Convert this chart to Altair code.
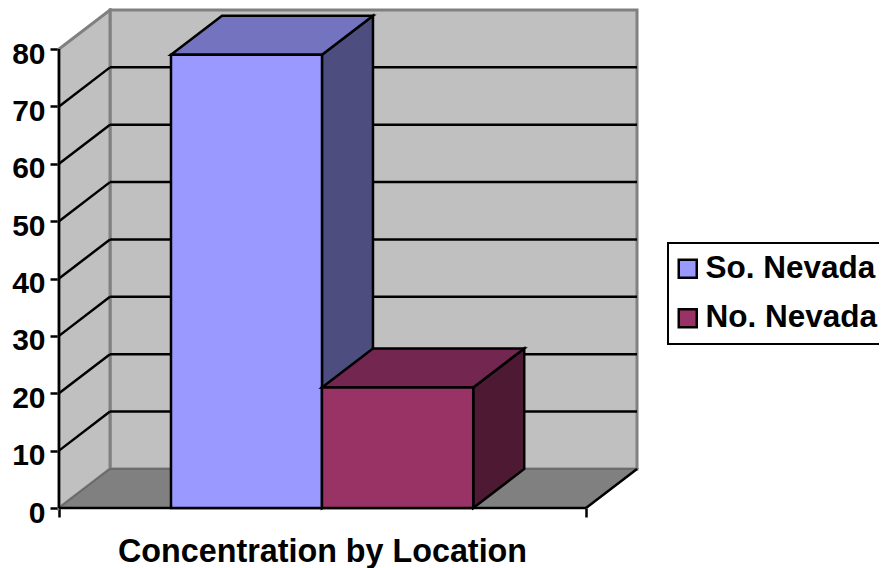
import altair as alt
import pandas as pd

locations = ["So. Nevada", "No. Nevada"]
values = [79, 21]
bar_left = [0.2125, 0.499]
bar_right = [0.499, 0.786]
front_colors = ["#9999FF", "#993366"]
top_colors = ["#7373BF", "#732650"]
side_colors = ["#4D4D80", "#4D1933"]
grid_values = [10, 20, 30, 40, 50, 60, 70]
y_ticks = [0, 10, 20, 30, 40, 50, 60, 70, 80]
x_ticks = [0, 1]
y_max = 80
depth_x = 0.0968
depth_y = 6.8
x_dom = [0, 1 + depth_x]
y_dom = [0, y_max + depth_y]
FONT = "Liberation Sans"
LINE = 2.5

x_axis = alt.Axis(values=x_ticks, labels=False, domain=False, grid=False,
                  ticks=True, tickSize=9, tickWidth=LINE, tickColor="black",
                  title="Concentration by Location", titleFont=FONT, titleFontWeight="bold",
                  titleFontSize=32.3, titleColor="black", titleX=263, titleY=53,
                  titleAnchor="middle", titleAlign="center", titleBaseline="alphabetic")
y_axis = alt.Axis(values=y_ticks, domain=False, grid=False, ticks=True, tickSize=9,
                  tickWidth=LINE, tickColor="black", title=None, labelFont=FONT,
                  labelFontWeight="bold", labelFontSize=30, labelColor="black",
                  labelPadding=5, labelOffset=5)


def X():
    return alt.X("x", type="quantitative", scale=alt.Scale(domain=x_dom), axis=x_axis)


def Y():
    return alt.Y("y", type="quantitative", scale=alt.Scale(domain=y_dom), axis=y_axis)


def d(**k):
    return alt.Data(values=pd.DataFrame(k).to_dict("records"))


def rule(x, x2, y, y2, color, w):
    return alt.Chart(d(x=[x], x2=[x2], y=[y], y2=[y2])).mark_rule(color=color, strokeWidth=w).encode(
        X(), x2="x2:Q", y=Y(), y2="y2:Q")


layers = []

# walls and floor
layers.append(alt.Chart(d(x=[depth_x], x2=[1 + depth_x], y=[depth_y], y2=[y_dom[1]]))
              .mark_rect(fill="#C0C0C0", stroke="#808080", strokeWidth=3)
              .encode(X(), x2="x2:Q", y=Y(), y2="y2:Q"))
layers.append(alt.Chart(d(x=[0, depth_x], y=[0, depth_y], y2=[y_max, y_max + depth_y]))
              .mark_area(fill="#C0C0C0", stroke="#808080", strokeWidth=3)
              .encode(X(), Y(), y2="y2:Q"))
layers.append(alt.Chart(d(y=[0, depth_y], x=[0, depth_x], x2=[1, 1 + depth_x]))
              .mark_area(orient="horizontal", fill="#808080", stroke="#666666", strokeWidth=1.5)
              .encode(Y(), X(), x2="x2:Q"))

# gridlines
for v in grid_values:
    layers.append(rule(0, depth_x, v, v + depth_y, "black", LINE))
    layers.append(rule(depth_x, 1 + depth_x, v + depth_y, v + depth_y, "black", LINE))

# floor front and right edges, left axis line
layers.append(rule(0, 1, 0, 0, "black", LINE))
layers.append(rule(1, 1 + depth_x, 0, depth_y, "black", LINE))
layers.append(rule(0, 0, 0, y_max, "black", LINE))

# bars
for i in range(2):
    l, r, v = bar_left[i], bar_right[i], values[i]
    layers.append(alt.Chart(d(x=[r, r + depth_x], y=[0, depth_y], y2=[v, v + depth_y]))
                  .mark_area(fill=side_colors[i], stroke="black", strokeWidth=LINE)
                  .encode(X(), Y(), y2="y2:Q"))
    layers.append(alt.Chart(d(y=[v, v + depth_y], x=[l, l + depth_x], x2=[r, r + depth_x]))
                  .mark_area(orient="horizontal", fill=top_colors[i], stroke="black", strokeWidth=LINE)
                  .encode(Y(), X(), x2="x2:Q"))
    layers.append(alt.Chart(d(x=[l], x2=[r], y=[0], y2=[v], loc=[locations[i]]))
                  .mark_rect(stroke="black", strokeWidth=LINE)
                  .encode(X(), x2="x2:Q", y=Y(), y2="y2:Q",
                          fill=alt.Fill("loc:N",
                                        scale=alt.Scale(domain=locations, range=front_colors),
                                        legend=alt.Legend(
                                            title=None, orient="none", legendX=609, legendY=233,
                                            symbolType="square", symbolSize=324,
                                            symbolStrokeColor="black", symbolStrokeWidth=2.5,
                                            symbolOpacity=1, symbolOffset=-6,
                                            labelFont=FONT, labelFontWeight="bold", labelFontSize=31.5,
                                            labelColor="black", labelOffset=2, labelLimit=300,
                                            rowPadding=16.5, padding=10,
                                            strokeColor="black", fillColor="white"))))

chart = (alt.layer(*layers)
         .resolve_scale(fill="shared")
         .properties(width=578, height=498,
                     background="white",
                     autosize=alt.AutoSizeParams(type="none"),
                     padding={"left": 51, "top": 2, "right": 242, "bottom": 60})
         .configure_view(stroke=None)
         .configure_legend(strokeWidth=2))

chart.save("out.html", embed_options={"renderer": "svg", "actions": False})
